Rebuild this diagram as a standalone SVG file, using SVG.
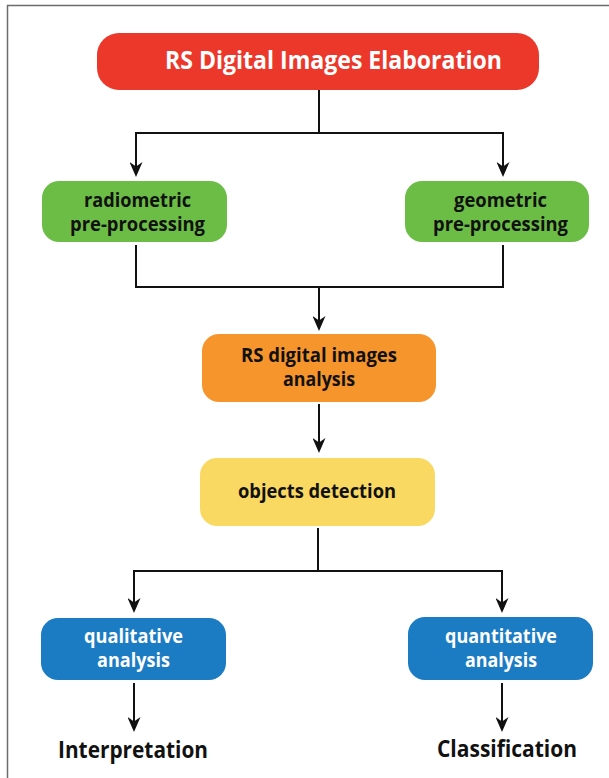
<svg xmlns="http://www.w3.org/2000/svg" width="609" height="778" viewBox="0 0 609 778">
  <style>
    .t { font-family: "Open Sans", "Liberation Sans", sans-serif; font-weight: 700; text-anchor: middle; }
    .dark { fill: #111111; }
    .light { fill: #ffffff; }
    .box { font-size: 19px; }
    .conn { fill: none; stroke: #111111; stroke-width: 2; }
  </style>
  <defs>
    <marker id="arrow" markerUnits="userSpaceOnUse" markerWidth="15" markerHeight="13" refX="11" refY="6.5" orient="auto">
      <path d="M0,0 L15,6.5 L0,13 L4.5,6.5 Z" fill="#111111"/>
    </marker>
  </defs>
  <rect x="7.5" y="5.5" width="640" height="800" fill="none" stroke="#6b6b6b" stroke-width="1.5"/>

  <g id="connectors">
    <path class="conn" d="M319,90 V133"/>
    <path class="conn" d="M319,133 H136 V173" marker-end="url(#arrow)"/>
    <path class="conn" d="M319,133 H503 V173" marker-end="url(#arrow)"/>
    <path class="conn" d="M136,245 V287 H319"/>
    <path class="conn" d="M503,245 V287 H319"/>
    <path class="conn" d="M319,287 V327" marker-end="url(#arrow)"/>
    <path class="conn" d="M319,404 V449" marker-end="url(#arrow)"/>
    <path class="conn" d="M318,528 V571"/>
    <path class="conn" d="M318,571 H134 V609" marker-end="url(#arrow)"/>
    <path class="conn" d="M318,571 H502 V609" marker-end="url(#arrow)"/>
    <path class="conn" d="M134,683 V728" marker-end="url(#arrow)"/>
    <path class="conn" d="M502,683 V728" marker-end="url(#arrow)"/>
  </g>

  <g id="elaboration">
    <rect x="97" y="33" width="442" height="57" rx="22" fill="#ec372b"/>
    <text class="t light" x="333.5" y="69" font-size="25" textLength="337" lengthAdjust="spacingAndGlyphs">RS Digital Images Elaboration</text>
  </g>

  <g id="radiometric">
    <rect x="42" y="181" width="185" height="61" rx="17" fill="#6cbd46"/>
    <text class="t dark box" x="137.5" y="207" textLength="107" lengthAdjust="spacingAndGlyphs">radiometric</text>
    <text class="t dark box" x="137.5" y="231" textLength="135" lengthAdjust="spacingAndGlyphs">pre-processing</text>
  </g>

  <g id="geometric">
    <rect x="405" y="181" width="184" height="61" rx="17" fill="#6cbd46"/>
    <text class="t dark box" x="500.5" y="207" textLength="93" lengthAdjust="spacingAndGlyphs">geometric</text>
    <text class="t dark box" x="500.5" y="231" textLength="135" lengthAdjust="spacingAndGlyphs">pre-processing</text>
  </g>

  <g id="analysis">
    <rect x="202" y="334" width="234" height="68" rx="17" fill="#f7952d"/>
    <text class="t dark box" x="319" y="362" textLength="156" lengthAdjust="spacingAndGlyphs">RS digital images</text>
    <text class="t dark box" x="319" y="386" textLength="72" lengthAdjust="spacingAndGlyphs">analysis</text>
  </g>

  <g id="detection">
    <rect x="200" y="458" width="235" height="68" rx="17" fill="#f9d962"/>
    <text class="t dark box" x="317" y="498" textLength="158" lengthAdjust="spacingAndGlyphs">objects detection</text>
  </g>

  <g id="qualitative">
    <rect x="41" y="618" width="185" height="62" rx="17" fill="#1b7bc3"/>
    <text class="t light box" x="133.5" y="643" textLength="99" lengthAdjust="spacingAndGlyphs">qualitative</text>
    <text class="t light box" x="133.5" y="667" textLength="73" lengthAdjust="spacingAndGlyphs">analysis</text>
  </g>

  <g id="quantitative">
    <rect x="408" y="617" width="185" height="63" rx="17" fill="#1b7bc3"/>
    <text class="t light box" x="501" y="643" textLength="112" lengthAdjust="spacingAndGlyphs">quantitative</text>
    <text class="t light box" x="501" y="667" textLength="72" lengthAdjust="spacingAndGlyphs">analysis</text>
  </g>

  <g id="interpretation">
    <text class="t dark" x="133" y="758" font-size="22.5" textLength="150" lengthAdjust="spacingAndGlyphs">Interpretation</text>
  </g>

  <g id="classification">
    <text class="t dark" x="507" y="757" font-size="22.5" textLength="140" lengthAdjust="spacingAndGlyphs">Classification</text>
  </g>
</svg>
